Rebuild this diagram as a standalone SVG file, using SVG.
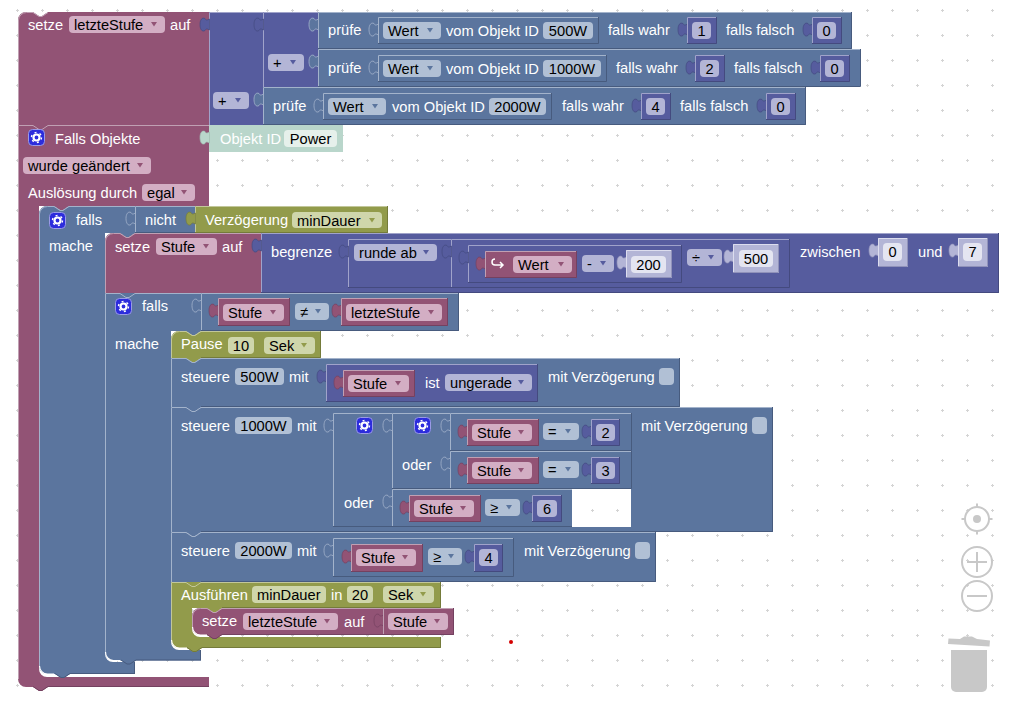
<svg xmlns="http://www.w3.org/2000/svg" width="1015" height="706" viewBox="0 0 1015 706">
<style>
text{font-family:"Liberation Sans",Arial,sans-serif;font-size:14.67px;white-space:pre}
.l{fill:#fff}.v{fill:#000}.c{text-anchor:middle}
.m{fill:#925375}.s{fill:#5b759e}.i{fill:#565c9e}.o{fill:#929b4b}.e{fill:#b9d6cb}.p{fill:#b3b5d6}
.fm{fill:#d3aec4}.fs{fill:#b1c0d5}.fi{fill:#b3b5d6}.fo{fill:#cfd6ab}.fe{fill:#e6f0eb}.fp{fill:#e4e5f1}
.hm,.hs,.hi,.ho,.he,.hp,.dm,.ds,.di,.do,.de,.dp{fill:none;stroke-width:1}
.hm{stroke:#c0a0b3}.hs{stroke:#a3b3cb}.hi{stroke:#a0a3ca}.ho{stroke:#c2c79a}.he{stroke:#dcebe5}.hp{stroke:#dcddee}
.dm{stroke:#744160}.ds{stroke:#475b7e}.di{stroke:#444a7f}.do{stroke:#747b3a}.de{stroke:#a0bdb1}.dp{stroke:#9092ba}
.tm{fill:#925375;stroke:#744160;stroke-width:.7}.ts{fill:#5b759e;stroke:#a3b3cb;stroke-width:.8}.ti{fill:#565c9e;stroke:#444a7f;stroke-width:.7}.to{fill:#929b4b;stroke:#747b3a;stroke-width:.7}.te{fill:#b9d6cb;stroke:#a0bdb1;stroke-width:.7}.tp{fill:#b3b5d6;stroke:#9092ba;stroke-width:.7}
.ck{fill:#b1c0d5}
.ui{fill:none;stroke:#c8c8c8;stroke-width:2}
.gb{fill:#c8c8c8}
</style>
<defs>
<pattern id="grid" patternUnits="userSpaceOnUse" width="25" height="25"><path d="M16 10.500h3M17.500 9v3" stroke="#d4d4d4" fill="none"/></pattern>
<path id="tab" d="M.5 13C-2 11.500-3 11.500-4 13.500-7 15.500-9 12-9 7.500-9 3-7 0-4 1.500-3 3.500-2 3.500 .5 2Z"/>
<path id="a" d="M0 0h6l-3 4.500z"/>
<g id="gear"><rect x="0.5" y="0.5" width="16" height="16" rx="4" fill="#2c2cdc" stroke="#9a9ae6"/><circle cx="8.5" cy="8.5" r="3" fill="none" stroke="#fff" stroke-width="2.2"/><circle cx="8.5" cy="8.5" r="5" fill="none" stroke="#fff" stroke-width="1.4" stroke-dasharray="2 3.24"/></g>
</defs>
<rect width="1015" height="706" fill="#fff"/>
<rect width="1015" height="706" fill="url(#grid)"/>
<g id="connectors"/>

<g id="set-letzte">
<path class="m" d="M18 20a8 8 0 0 1 8-8h7l6 4h3l6-4H209V125H18Z"/>
<path class="hm" d="M18.500 125V20a8 8 0 0 1 8-7.500h6.500l6 4h3l6-4"/>
<rect class="fm" x="69" y="16" width="96" height="17" rx="4"/>
<use href="#a" x="151" y="22" class="m"/>
<text class="l" x="28" y="30">setze</text><text class="v" x="74" y="30">letzteStufe</text><text class="l" x="170" y="30">auf</text>
</g>

<g id="plus-outer">
<rect class="i" x="209" y="12" width="109" height="113"/>
<path class="hi" d="M209.500 125V12.500H318"/>
<use href="#tab" x="209" y="17" class="ti"/>
<rect class="fi" x="213" y="92" width="36" height="17" rx="4"/>
<use href="#a" x="235" y="98" class="i"/>
<text class="v" x="218" y="106">+</text>
</g>
<g id="plus-inner">
<rect class="i" x="263" y="12" width="55" height="75"/>
<path class="hi" d="M263.500 87V12.500H318"/>
<use href="#tab" x="263" y="17" class="ti"/>
<rect class="fi" x="268" y="54" width="36" height="17" rx="4"/>
<use href="#a" x="290" y="60" class="i"/>
<text class="v" x="273" y="68">+</text>
</g>

<g id="pruefe1">
<rect class="s" x="318" y="12" width="534" height="37"/>
<path class="hs" d="M318.500 49V12.500H852"/><path class="ds" d="M318 48.500H851.500V12"/>
<use href="#tab" x="318" y="17" class="ts"/>
<text class="l" x="328" y="35">prüfe</text>
<use href="#tab" x="378" y="22" class="ts"/>
<path class="hs" d="M378.500 44V17.500H599"/><path class="ds" d="M378 43.500H598.500V17"/>
<rect class="fs" x="383" y="22" width="58" height="17" rx="4"/><use href="#a" x="427" y="28" class="s"/>
<text class="v" x="388" y="36">Wert</text>
<text class="l" x="446" y="36">vom Objekt ID</text>
<rect class="fs" x="543" y="22" width="50" height="17" rx="4"/><text class="v c" x="568" y="36">500W</text>
<text class="l" x="608" y="35">falls wahr</text>
<use href="#tab" x="687" y="22" class="ti"/><rect class="i" x="687" y="17" width="30" height="27"/><path class="hi" d="M687.500 44V17.500H717"/><path class="di" d="M687 43.500H716.500V17"/>
<rect class="fi" x="692" y="22" width="19" height="17" rx="4"/><text class="v c" x="701.500" y="36">1</text>
<text class="l" x="726" y="35">falls falsch</text>
<use href="#tab" x="812" y="22" class="ti"/><rect class="i" x="812" y="17" width="30" height="27"/><path class="hi" d="M812.500 44V17.500H842"/><path class="di" d="M812 43.500H841.500V17"/>
<rect class="fi" x="817" y="22" width="19" height="17" rx="4"/><text class="v c" x="826.500" y="36">0</text>
</g>

<g id="pruefe2">
<rect class="s" x="318" y="49" width="542" height="38"/>
<path class="hs" d="M318.500 87V49.500H860"/><path class="ds" d="M318 86.500H860.500V49"/>
<use href="#tab" x="318" y="54" class="ts"/>
<text class="l" x="328" y="73">prüfe</text>
<use href="#tab" x="378" y="60" class="ts"/>
<path class="hs" d="M378.500 82V55.500H607"/><path class="ds" d="M378 81.500H606.500V55"/>
<rect class="fs" x="383" y="60" width="58" height="17" rx="4"/><use href="#a" x="427" y="66" class="s"/>
<text class="v" x="388" y="74">Wert</text>
<text class="l" x="446" y="74">vom Objekt ID</text>
<rect class="fs" x="543" y="60" width="58" height="17" rx="4"/><text class="v c" x="572" y="74">1000W</text>
<text class="l" x="616" y="73">falls wahr</text>
<use href="#tab" x="695" y="60" class="ti"/><rect class="i" x="695" y="55" width="30" height="27"/><path class="hi" d="M695.500 82V55.500H725"/><path class="di" d="M695 81.500H724.500V55"/>
<rect class="fi" x="700" y="60" width="19" height="17" rx="4"/><text class="v c" x="709.500" y="74">2</text>
<text class="l" x="734" y="73">falls falsch</text>
<use href="#tab" x="820" y="60" class="ti"/><rect class="i" x="820" y="55" width="30" height="27"/><path class="hi" d="M820.500 82V55.500H850"/><path class="di" d="M820 81.500H849.500V55"/>
<rect class="fi" x="825" y="60" width="19" height="17" rx="4"/><text class="v c" x="834.500" y="74">0</text>
</g>

<g id="pruefe3">
<rect class="s" x="263" y="87" width="543" height="38"/>
<path class="hs" d="M263.500 125V87.500H806"/><path class="ds" d="M263 124.500H805.500V87"/>
<use href="#tab" x="263" y="92" class="ts"/>
<text class="l" x="273" y="111">prüfe</text>
<use href="#tab" x="323" y="98" class="ts"/>
<path class="hs" d="M323.500 120V93.500H552"/><path class="ds" d="M323 119.500H551.500V93"/>
<rect class="fs" x="328" y="98" width="58" height="17" rx="4"/><use href="#a" x="372" y="104" class="s"/>
<text class="v" x="333" y="112">Wert</text>
<text class="l" x="392" y="112">vom Objekt ID</text>
<rect class="fs" x="489" y="98" width="57" height="17" rx="4"/><text class="v c" x="517.500" y="112">2000W</text>
<text class="l" x="562" y="111">falls wahr</text>
<use href="#tab" x="641" y="98" class="ti"/><rect class="i" x="641" y="93" width="30" height="27"/><path class="hi" d="M641.500 120V93.500H671"/><path class="di" d="M641 119.500H670.500V93"/>
<rect class="fi" x="646" y="98" width="19" height="17" rx="4"/><text class="v c" x="655.500" y="112">4</text>
<text class="l" x="680" y="111">falls falsch</text>
<use href="#tab" x="766" y="98" class="ti"/><rect class="i" x="766" y="93" width="30" height="27"/><path class="hi" d="M766.500 120V93.500H796"/><path class="di" d="M766 119.500H795.500V93"/>
<rect class="fi" x="771" y="98" width="19" height="17" rx="4"/><text class="v c" x="780.500" y="112">0</text>
</g>

<g id="falls-objekte">
<path class="m" d="M18 125H209V206H69l-6 4h-3l-6-4H39V669a8 8 0 0 0 8 8H209V687H48l-6 4h-3l-6-4H26a8 8 0 0 1-8-8Z"/>
<path class="hm" d="M18.500 679V125.500H33l6 4h3l6-4H209"/>
<path class="dm" d="M209 686.500H48l-6 4h-3l-6-4"/>
<use href="#gear" x="28" y="129"/>
<text class="l" x="55" y="144">Falls Objekte</text>
<rect class="fm" x="23" y="157" width="128" height="17" rx="4"/><use href="#a" x="137" y="163" class="m"/>
<text class="v" x="28" y="171">wurde geändert</text>
<text class="l" x="28" y="198">Auslösung durch</text>
<rect class="fm" x="142" y="184" width="53" height="17" rx="4"/><use href="#a" x="181" y="190" class="m"/>
<text class="v" x="147" y="198">egal</text>
</g>

<g id="objekt-power">
<rect class="e" x="209" y="125" width="134" height="27"/>
<use href="#tab" x="209" y="130" class="te"/>
<text class="l" x="220" y="144">Objekt ID</text>
<rect class="fe" x="284" y="130" width="53" height="17" rx="4"/><text class="v c" x="310.500" y="144">Power</text>
</g>

<g id="falls-outer">
<path class="s" d="M39 214a8 8 0 0 1 8-8h7l6 4h3l6-4H135V233l-6 4h-3l-6-4H105V654a8 8 0 0 0 8 8H135V674H70l-6 4h-3l-6-4H47a8 8 0 0 1-8-8Z"/>
<path class="hs" d="M39.500 666V214a8 8 0 0 1 8-7.500h6.500l6 4h3l6-4H135"/>
<path class="ds" d="M135 673.500H70l-6 4h-3l-6-4M134.500 674V662"/>
<path d="M39.500 666a8 8 0 0 0 8 8H54" fill="none" stroke="#fff" stroke-width="1.200"/>
<use href="#gear" x="49" y="212"/>
<text class="l" x="76" y="225">falls</text>
<text class="l" x="49" y="251">mache</text>
</g>
<g id="nicht">
<rect class="s" x="135" y="206" width="60" height="27"/>
<path class="hs" d="M135.500 233V206.500H195"/><path class="ds" d="M135 232.500H195"/>
<use href="#tab" x="135" y="211" class="ts"/>
<text class="l" x="145" y="225">nicht</text>
</g>
<g id="verzoegerung">
<rect class="o" x="195" y="206" width="193" height="27"/>
<path class="ho" d="M195.500 233V206.500H388"/><path class="do" d="M195 232.500H387.500V206"/>
<use href="#tab" x="195" y="211" class="to"/>
<text class="l" x="205" y="225">Verzögerung</text>
<rect class="fo" x="292" y="212" width="90" height="16" rx="4"/><use href="#a" x="369" y="218" class="o"/>
<text class="v" x="297" y="226">minDauer</text>
</g>

<g id="setze-stufe">
<path class="m" d="M105 241a8 8 0 0 1 8-8h7l6 4h3l6-4H261V293H105Z"/>
<path class="hm" d="M105.500 293V241a8 8 0 0 1 8-7.500h6.500l6 4h3l6-4H261"/>
<text class="l" x="115" y="252">setze</text>
<rect class="fm" x="156" y="238" width="61" height="17" rx="4"/><use href="#a" x="203" y="244" class="m"/>
<text class="v" x="161" y="252">Stufe</text>
<text class="l" x="222" y="252">auf</text>
</g>

<g id="begrenze">
<rect class="i" x="261" y="233" width="738" height="60"/>
<path class="hi" d="M261.500 293V233.500H998"/><path class="di" d="M261 292.500H998.500V233"/>
<use href="#tab" x="261" y="238" class="ti"/>
<text class="l" x="271" y="257">begrenze</text>
<g id="runde-ab">
<path class="hi" d="M348.500 288V239.500H451"/><path class="di" d="M348 287.500H451"/>
<use href="#tab" x="348" y="244" class="ti"/>
<rect class="fi" x="354" y="244" width="83" height="17" rx="4"/><use href="#a" x="423" y="250" class="i"/>
<text class="v" x="359" y="258">runde ab</text>
</g>
<g id="teilen">
<path class="hi" d="M451.500 288V239.500H790"/><path class="di" d="M451 287.500H789.500V239"/>
<use href="#tab" x="451" y="244" class="ti"/>
<rect class="fi" x="687" y="249" width="35" height="17" rx="4"/><use href="#a" x="708" y="255" class="i"/>
<text class="v" x="692" y="263">÷</text>
<use href="#tab" x="733" y="249" class="tp"/><rect class="p" x="733" y="244" width="46" height="29"/><path class="hp" d="M733.500 273V244.500H779"/><path class="dp" d="M733 272.500H778.500V244"/>
<rect class="fp" x="739" y="250" width="34" height="17" rx="4"/><text class="v c" x="756" y="264">500</text>
</g>
<g id="minus">
<path class="hi" d="M468.500 283V245.500H682"/><path class="di" d="M468 282.500H681.500V245"/>
<use href="#tab" x="468" y="250" class="ti"/>
<rect class="fi" x="582" y="255" width="32" height="17" rx="4"/><use href="#a" x="600" y="261" class="i"/>
<text class="v" x="587" y="269">-</text>
<use href="#tab" x="626" y="255" class="tp"/><rect class="p" x="626" y="250" width="46" height="28"/><path class="hp" d="M626.500 278V250.500H672"/><path class="dp" d="M626 277.500H671.500V250"/>
<rect class="fp" x="631" y="256" width="35" height="17" rx="4"/><text class="v c" x="648.500" y="270">200</text>
</g>
<g id="wert-var">
<use href="#tab" x="485" y="256" class="tm"/><rect class="m" x="485" y="251" width="92" height="27"/><path class="hm" d="M485.500 278V251.500H577"/><path class="dm" d="M485 277.500H576.500V251"/>
<path d="M495 259.500a3 3 0 0 0 0 6h8m-3-3l3 3-3 3" fill="none" stroke="#fff" stroke-width="1.500" transform="translate(0 -.5)"/>
<rect class="fm" x="513" y="256" width="59" height="17" rx="4"/><use href="#a" x="558" y="262" class="m"/>
<text class="v" x="518" y="270">Wert</text>
</g>
<text class="l" x="800" y="257">zwischen</text>
<use href="#tab" x="878" y="243" class="tp"/><rect class="p" x="878" y="238" width="30" height="29"/><path class="hp" d="M878.500 267V238.500H908"/><path class="dp" d="M878 266.500H907.500V238"/>
<rect class="fp" x="883" y="243" width="19" height="18" rx="4"/><text class="v c" x="892.500" y="257">0</text>
<text class="l" x="918" y="257">und</text>
<use href="#tab" x="958" y="243" class="tp"/><rect class="p" x="958" y="238" width="30" height="29"/><path class="hp" d="M958.500 267V238.500H988"/><path class="dp" d="M958 266.500H987.500V238"/>
<rect class="fp" x="963" y="243" width="19" height="18" rx="4"/><text class="v c" x="972.500" y="257">7</text>
</g>

<g id="falls-inner">
<path class="s" d="M105 293H201V331l-6 4h-3l-6-4H171V642a8 8 0 0 0 8 8H201V660.500H136l-6 4h-3l-6-4H113a8 8 0 0 1-8-8Z"/>
<path class="hs" d="M105.500 652V293.500H120l6 4h3l6-4H201"/>
<path class="ds" d="M201 660H136l-6 4h-3l-6-4M200.500 660V650"/>
<path d="M105.500 652a8 8 0 0 0 8 8.500H120" fill="none" stroke="#fff" stroke-width="1.200"/>
<use href="#gear" x="115" y="298"/>
<text class="l" x="142" y="311">falls</text>
<text class="l" x="115" y="349">mache</text>
</g>
<g id="ungleich">
<rect class="s" x="201" y="293" width="258" height="38"/>
<path class="hs" d="M201.500 331V293.500H459"/><path class="ds" d="M201 330.500H458.500V293"/>
<use href="#tab" x="201" y="298" class="ts"/>
<use href="#tab" x="218" y="303" class="tm"/><rect class="m" x="218" y="298" width="72" height="28"/><path class="hm" d="M218.500 326V298.500H290"/><path class="dm" d="M218 325.500H289.500V298"/>
<rect class="fm" x="223" y="304" width="61" height="17" rx="4"/><use href="#a" x="270" y="310" class="m"/>
<text class="v" x="228" y="318">Stufe</text>
<rect class="fs" x="295" y="303" width="34" height="17" rx="4"/><use href="#a" x="315" y="309" class="s"/>
<text class="v" x="300" y="317">≠</text>
<use href="#tab" x="341" y="303" class="tm"/><rect class="m" x="341" y="298" width="107" height="28"/><path class="hm" d="M341.500 326V298.500H448"/><path class="dm" d="M341 325.500H447.500V298"/>
<rect class="fm" x="346" y="304" width="96" height="17" rx="4"/><use href="#a" x="428" y="310" class="m"/>
<text class="v" x="351" y="318">letzteStufe</text>
</g>

<g id="pause">
<path class="o" d="M171 339a8 8 0 0 1 8-8h7l6 4h3l6-4H321V358H201l-6 4h-3l-6-4H171Z"/>
<path class="ho" d="M171.500 358V339a8 8 0 0 1 8-7.500h6.500l6 4h3l6-4H321"/><path class="do" d="M320.500 331V357.500H201"/>
<text class="l" x="181" y="349">Pause</text>
<rect class="fo" x="228" y="337" width="26" height="17" rx="4"/><text class="v c" x="241" y="351">10</text>
<rect class="fo" x="264" y="337" width="51" height="17" rx="4"/><use href="#a" x="301" y="343" class="o"/>
<text class="v" x="269" y="351">Sek</text>
</g>

<g id="steuere500">
<path class="s" d="M171 358H186l6 4h3l6-4H680V407H201l-6 4h-3l-6-4H171Z"/>
<path class="hs" d="M171.500 407V358.500H186l6 4h3l6-4H680"/><path class="ds" d="M201 406.500H679.500V358"/>
<text class="l" x="181" y="382">steuere</text>
<rect class="fs" x="235" y="368" width="49" height="17" rx="4"/><text class="v c" x="259.500" y="382">500W</text>
<text class="l" x="289" y="382">mit</text>
<use href="#tab" x="326" y="369" class="ti"/><rect class="i" x="326" y="364" width="212" height="38"/><path class="hi" d="M326.500 402V364.500H538"/><path class="di" d="M326 401.500H537.500V364"/>
<use href="#tab" x="343" y="375" class="tm"/><rect class="m" x="343" y="370" width="72" height="27"/><path class="hm" d="M343.500 397V370.500H415"/><path class="dm" d="M343 396.500H414.500V370"/>
<rect class="fm" x="348" y="375" width="61" height="17" rx="4"/><use href="#a" x="395" y="381" class="m"/>
<text class="v" x="353" y="389">Stufe</text>
<text class="l" x="425" y="388">ist</text>
<rect class="fi" x="445" y="374" width="87" height="17" rx="4"/><use href="#a" x="518" y="380" class="i"/>
<text class="v" x="450" y="388">ungerade</text>
<text class="l" x="548" y="382">mit Verzögerung</text>
<rect class="ck" x="659" y="368" width="15" height="17" rx="4"/>
</g>

<g id="steuere1000">
<path class="s" fill-rule="evenodd" d="M171 407H186l6 4h3l6-4H773V532H201l-6 4h-3l-6-4H171ZM572 489V527H631V489Z"/>
<path class="s" d="M186 407l6 4h3l6-4Z"/>
<path class="hs" d="M171.500 532V407.500H186l6 4h3l6-4H773"/><path class="ds" d="M201 531.500H772.500V407"/>
<text class="l" x="181" y="431">steuere</text>
<rect class="fs" x="235" y="417" width="57" height="17" rx="4"/><text class="v c" x="263.500" y="431">1000W</text>
<text class="l" x="297" y="431">mit</text>
<text class="l" x="641" y="431">mit Verzögerung</text>
<rect class="ck" x="752" y="417" width="15" height="17" rx="4"/>
<g id="oder-outer">
<path class="hs" d="M333.500 527V413.500H392"/><path class="ds" d="M333 526.500H392"/>
<use href="#tab" x="333" y="418" class="ts"/>
<use href="#gear" x="356" y="417"/>
<text class="l" x="344" y="508">oder</text>
</g>
<g id="oder-inner">
<path class="hs" d="M392.500 489V413.500H450"/><path class="ds" d="M392 488.500H450"/>
<use href="#tab" x="392" y="418" class="ts"/>
<use href="#gear" x="414" y="417"/>
<text class="l" x="402" y="470">oder</text>
</g>
<g id="gleich2">
<path class="hs" d="M450.500 451V413.500H631"/><path class="ds" d="M450 450.500H631.500V413"/>
<use href="#tab" x="450" y="418" class="ts"/>
<use href="#tab" x="467" y="424" class="tm"/><rect class="m" x="467" y="419" width="72" height="27"/><path class="hm" d="M467.500 446V419.500H539"/><path class="dm" d="M467 445.500H538.500V419"/>
<rect class="fm" x="472" y="424" width="60" height="17" rx="4"/><use href="#a" x="518" y="430" class="m"/>
<text class="v" x="477" y="438">Stufe</text>
<rect class="fs" x="543" y="423" width="36" height="17" rx="4"/><use href="#a" x="565" y="429" class="s"/>
<text class="v" x="548" y="437">=</text>
<use href="#tab" x="591" y="424" class="ti"/><rect class="i" x="591" y="419" width="29" height="27"/><path class="hi" d="M591.500 446V419.500H620"/><path class="di" d="M591 445.500H619.500V419"/>
<rect class="fi" x="596" y="424" width="19" height="17" rx="4"/><text class="v c" x="605.500" y="438">2</text>
</g>
<g id="gleich3">
<path class="hs" d="M450.500 489V451.500H631"/><path class="ds" d="M450 488.500H631.500V451"/>
<use href="#tab" x="450" y="456" class="ts"/>
<use href="#tab" x="467" y="462" class="tm"/><rect class="m" x="467" y="457" width="72" height="27"/><path class="hm" d="M467.500 484V457.500H539"/><path class="dm" d="M467 483.500H538.500V457"/>
<rect class="fm" x="472" y="462" width="60" height="17" rx="4"/><use href="#a" x="518" y="468" class="m"/>
<text class="v" x="477" y="476">Stufe</text>
<rect class="fs" x="543" y="461" width="36" height="17" rx="4"/><use href="#a" x="565" y="467" class="s"/>
<text class="v" x="548" y="475">=</text>
<use href="#tab" x="591" y="462" class="ti"/><rect class="i" x="591" y="457" width="29" height="27"/><path class="hi" d="M591.500 484V457.500H620"/><path class="di" d="M591 483.500H619.500V457"/>
<rect class="fi" x="596" y="462" width="19" height="17" rx="4"/><text class="v c" x="605.500" y="476">3</text>
</g>
<g id="groesser6">
<path class="hs" d="M392.500 527V489.500H572"/><path class="ds" d="M392 526.500H572"/>
<use href="#tab" x="392" y="494" class="ts"/>
<use href="#tab" x="409" y="500" class="tm"/><rect class="m" x="409" y="495" width="72" height="27"/><path class="hm" d="M409.500 522V495.500H481"/><path class="dm" d="M409 521.500H480.500V495"/>
<rect class="fm" x="414" y="500" width="60" height="17" rx="4"/><use href="#a" x="460" y="506" class="m"/>
<text class="v" x="419" y="514">Stufe</text>
<rect class="fs" x="485" y="499" width="35" height="17" rx="4"/><use href="#a" x="506" y="505" class="s"/>
<text class="v" x="490" y="513">≥</text>
<use href="#tab" x="532" y="500" class="ti"/><rect class="i" x="532" y="495" width="30" height="27"/><path class="hi" d="M532.500 522V495.500H562"/><path class="di" d="M532 521.500H561.500V495"/>
<rect class="fi" x="537" y="500" width="20" height="17" rx="4"/><text class="v c" x="547" y="514">6</text>
</g>
</g>

<g id="steuere2000">
<path class="s" d="M171 532H186l6 4h3l6-4H656V582H201l-6 4h-3l-6-4H171Z"/>
<path class="hs" d="M171.500 582V532.500H186l6 4h3l6-4H656"/><path class="ds" d="M201 581.500H655.500V532"/>
<text class="l" x="181" y="556">steuere</text>
<rect class="fs" x="235" y="542" width="57" height="17" rx="4"/><text class="v c" x="263.500" y="556">2000W</text>
<text class="l" x="297" y="556">mit</text>
<use href="#tab" x="333" y="543" class="ts"/>
<path class="hs" d="M333.500 577V538.500H514"/><path class="ds" d="M333 576.500H513.500V538"/>
<use href="#tab" x="351" y="549" class="tm"/><rect class="m" x="351" y="544" width="72" height="28"/><path class="hm" d="M351.500 572V544.500H423"/><path class="dm" d="M351 571.500H422.500V544"/>
<rect class="fm" x="356" y="549" width="60" height="17" rx="4"/><use href="#a" x="402" y="555" class="m"/>
<text class="v" x="361" y="563">Stufe</text>
<rect class="fs" x="428" y="548" width="34" height="17" rx="4"/><use href="#a" x="448" y="554" class="s"/>
<text class="v" x="433" y="562">≥</text>
<use href="#tab" x="474" y="549" class="ti"/><rect class="i" x="474" y="544" width="29" height="28"/><path class="hi" d="M474.500 572V544.500H503"/><path class="di" d="M474 571.500H502.500V544"/>
<rect class="fi" x="479" y="549" width="19" height="17" rx="4"/><text class="v c" x="488.500" y="563">4</text>
<text class="l" x="524" y="556">mit Verzögerung</text>
<rect class="ck" x="635" y="542" width="15" height="17" rx="4"/>
</g>

<g id="ausfuehren">
<path class="o" d="M171 582H441V608H222l-6 4h-3l-6-4H192V629a8 8 0 0 0 8 8H441V648H202l-6 4h-3l-6-4H179a8 8 0 0 1-8-8Z"/>
<path class="ho" d="M171.500 640V582.500H186l6 4h3l6-4H441"/><path class="do" d="M440.500 582V607.500H222M440.500 637V647.500H202l-6 4h-3l-6-4"/>
<path d="M171.500 640a8 8 0 0 0 8 8H187" fill="none" stroke="#fff" stroke-width="1.200"/>
<text class="l" x="181" y="600">Ausführen</text>
<rect class="fo" x="252" y="586" width="74" height="17" rx="4"/><text class="v" x="257" y="600">minDauer</text>
<text class="l" x="331" y="600">in</text>
<rect class="fo" x="347" y="586" width="26" height="17" rx="4"/><text class="v c" x="360" y="600">20</text>
<rect class="fo" x="383" y="586" width="51" height="17" rx="4"/><use href="#a" x="420" y="592" class="o"/>
<text class="v" x="388" y="600">Sek</text>
</g>

<g id="setze-letzte2">
<path class="m" d="M192 616a8 8 0 0 1 8-8h7l6 4h3l6-4H383V635H222l-6 4h-3l-6-4H200a8 8 0 0 1-8-8Z"/>
<path class="hm" d="M192.500 627V616a8 8 0 0 1 8-7.500h6.500l6 4h3l6-4H383"/><path class="dm" d="M383 634.500H222l-6 4h-3l-6-4"/>
<path d="M192.500 627a8 8 0 0 0 8 8H207" fill="none" stroke="#fff" stroke-width="1.200"/>
<text class="l" x="202" y="626">setze</text>
<rect class="fm" x="243" y="613" width="95" height="17" rx="4"/><use href="#a" x="324" y="619" class="m"/>
<text class="v" x="248" y="627">letzteStufe</text>
<text class="l" x="344" y="627">auf</text>
<rect class="m" x="383" y="608" width="71" height="27"/>
<use href="#tab" x="383" y="613" class="tm"/>
<path class="hm" d="M383.500 635V608.500H454"/><path class="dm" d="M383 634.500H453.500V608"/>
<rect class="fm" x="388" y="613" width="60" height="17" rx="4"/><use href="#a" x="434" y="619" class="m"/>
<text class="v" x="393" y="627">Stufe</text>
</g>

<circle id="punkt" cx="511" cy="642" r="2" fill="#d40000"/>

<g id="center-control">
<circle class="ui" cx="977" cy="519" r="12"/><circle class="gb" cx="977" cy="519" r="4"/>
<path class="ui" d="M977 503.500v4M977 530.500v4M961.500 519h4M988.500 519h4"/>
</g>
<g id="zoom-in"><circle class="ui" cx="977" cy="562" r="15"/><path class="ui" d="M967 562h20M977 552v20"/></g>
<g id="zoom-out"><circle class="ui" cx="977" cy="596" r="15"/><path class="ui" d="M967 596h20"/></g>
<g id="trash" class="gb">
<path d="M948.500 638.500l11.500.500 4-2.500h8l5 2.500 13 1.500-.5 6-41.500-2.500z"/>
<path d="M951 650H987V687a5 5 0 0 1-5 5H956a5 5 0 0 1-5-5z"/>
</g>
</svg>
